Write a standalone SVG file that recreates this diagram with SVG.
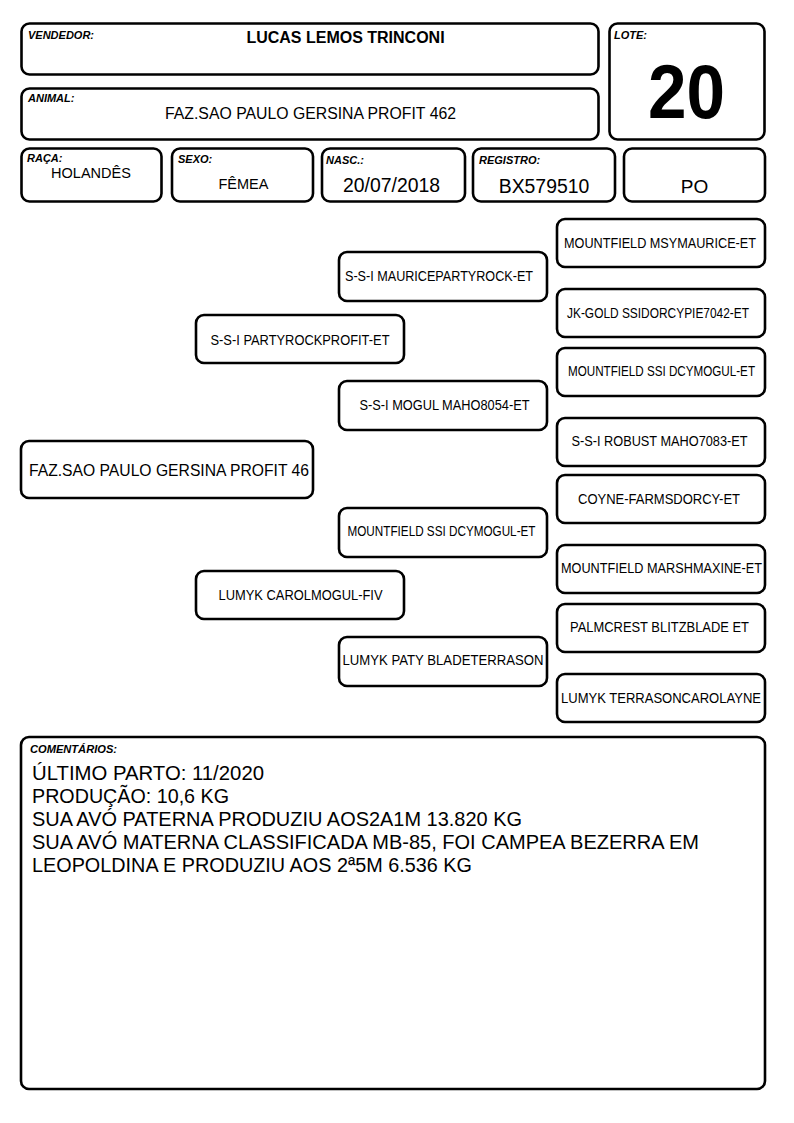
<svg xmlns="http://www.w3.org/2000/svg" width="794" height="1123" viewBox="0 0 794 1123">
<style>
.b{fill:#fff;stroke:#000;stroke-width:2.6}
text{font-family:"Liberation Sans",Arial,sans-serif;fill:#000}
.lbl{font-size:11px;font-weight:bold;font-style:italic}
.v{text-anchor:middle}
.p{font-size:14px;text-anchor:middle}
.c{font-size:20px}
</style>
<rect width="794" height="1123" fill="#fff"/>
<g id="vendedor"><rect class="b" x="21.5" y="23.5" width="577" height="51" rx="8"/><text class="lbl" x="28" y="39">VENDEDOR:</text><text class="v" x="345.5" y="43" font-size="16" font-weight="bold">LUCAS LEMOS TRINCONI</text></g>
<g id="animal"><rect class="b" x="21.5" y="88.5" width="577" height="51" rx="8"/><text class="lbl" x="28" y="102">ANIMAL:</text><text class="v" x="310.5" y="119" font-size="16" textLength="291" lengthAdjust="spacingAndGlyphs">FAZ.SAO PAULO GERSINA PROFIT 462</text></g>
<g id="lote"><rect class="b" x="609.5" y="23.5" width="155" height="116" rx="8"/><text class="lbl" x="614" y="39">LOTE:</text><text class="v" x="686.5" y="118" font-size="76" font-weight="bold" textLength="77" lengthAdjust="spacingAndGlyphs">20</text></g>
<g id="raca"><rect class="b" x="21.5" y="148.5" width="140" height="53" rx="8"/><text class="lbl" x="27" y="162">RAÇA:</text><text class="v" x="91" y="178" font-size="14.5">HOLANDÊS</text></g>
<g id="sexo"><rect class="b" x="172" y="148.5" width="141" height="53" rx="8"/><text class="lbl" x="178" y="163">SEXO:</text><text class="v" x="243.5" y="189" font-size="14.5">FÊMEA</text></g>
<g id="nasc"><rect class="b" x="322" y="148.5" width="143" height="53" rx="8"/><text class="lbl" x="326" y="164">NASC.:</text><text class="v" x="391.5" y="192" font-size="19.4">20/07/2018</text></g>
<g id="registro"><rect class="b" x="473" y="148.5" width="142" height="53" rx="8"/><text class="lbl" x="479" y="164">REGISTRO:</text><text class="v" x="544" y="192.5" font-size="19.4">BX579510</text></g>
<g id="po"><rect class="b" x="624" y="148.5" width="141" height="53" rx="8"/><text class="v" x="694.5" y="192.5" font-size="19">PO</text></g>
<g id="connectors"/>
<g id="ped-animal"><rect class="b" x="21" y="441" width="292" height="57" rx="8"/><text x="29" y="476" font-size="16.5" textLength="280" lengthAdjust="spacingAndGlyphs">FAZ.SAO PAULO GERSINA PROFIT 46</text></g>
<g id="sire"><rect class="b" x="196" y="315" width="208" height="48" rx="8"/><text class="p" x="300" y="345" textLength="179" lengthAdjust="spacingAndGlyphs">S-S-I PARTYROCKPROFIT-ET</text></g>
<g id="dam"><rect class="b" x="196" y="571" width="208" height="48" rx="8"/><text class="p" x="300.5" y="600" textLength="164" lengthAdjust="spacingAndGlyphs">LUMYK CAROLMOGUL-FIV</text></g>
<g id="ss"><rect class="b" x="339" y="252" width="208" height="49" rx="8"/><text class="p" x="439" y="281" textLength="188" lengthAdjust="spacingAndGlyphs">S-S-I MAURICEPARTYROCK-ET</text></g>
<g id="sd"><rect class="b" x="339" y="381" width="208" height="49" rx="8"/><text class="p" x="444.5" y="410" textLength="170" lengthAdjust="spacingAndGlyphs">S-S-I MOGUL MAHO8054-ET</text></g>
<g id="ds"><rect class="b" x="339" y="508" width="208" height="49" rx="8"/><text class="p" x="441.5" y="536" font-size="13" textLength="188" lengthAdjust="spacingAndGlyphs">MOUNTFIELD SSI DCYMOGUL-ET</text></g>
<g id="dd"><rect class="b" x="339" y="637" width="208" height="49" rx="8"/><text class="p" x="443" y="665" textLength="201" lengthAdjust="spacingAndGlyphs">LUMYK PATY BLADETERRASON</text></g>
<g id="sss"><rect class="b" x="557" y="219" width="208" height="48" rx="8"/><text class="p" x="660" y="247.5" textLength="192" lengthAdjust="spacingAndGlyphs">MOUNTFIELD MSYMAURICE-ET</text></g>
<g id="ssd"><rect class="b" x="557" y="289" width="208" height="48" rx="8"/><text class="p" x="658" y="317.5" textLength="182" lengthAdjust="spacingAndGlyphs">JK-GOLD SSIDORCYPIE7042-ET</text></g>
<g id="sds"><rect class="b" x="557" y="348" width="208" height="48" rx="8"/><text class="p" x="661.5" y="375.5" font-size="13" textLength="187" lengthAdjust="spacingAndGlyphs">MOUNTFIELD SSI DCYMOGUL-ET</text></g>
<g id="sdd"><rect class="b" x="557" y="418" width="208" height="48" rx="8"/><text class="p" x="659.5" y="445.5" textLength="176" lengthAdjust="spacingAndGlyphs">S-S-I ROBUST MAHO7083-ET</text></g>
<g id="dss"><rect class="b" x="557" y="475" width="208" height="48" rx="8"/><text class="p" x="659" y="504" textLength="162" lengthAdjust="spacingAndGlyphs">COYNE-FARMSDORCY-ET</text></g>
<g id="dsd"><rect class="b" x="557" y="545" width="208" height="48" rx="8"/><text class="p" x="661.5" y="573" textLength="201" lengthAdjust="spacingAndGlyphs">MOUNTFIELD MARSHMAXINE-ET</text></g>
<g id="dds"><rect class="b" x="557" y="604" width="208" height="48" rx="8"/><text class="p" x="659.5" y="632" textLength="179" lengthAdjust="spacingAndGlyphs">PALMCREST BLITZBLADE ET</text></g>
<g id="ddd"><rect class="b" x="557" y="674" width="208" height="48" rx="8"/><text class="p" x="661" y="703" textLength="200" lengthAdjust="spacingAndGlyphs">LUMYK TERRASONCAROLAYNE</text></g>
<g id="comentarios"><rect class="b" x="21" y="737" width="744" height="352" rx="8"/><text class="lbl" x="30" y="752.5" font-size="10.5" textLength="87" lengthAdjust="spacingAndGlyphs">COMENTÁRIOS:</text>
<text class="c" x="32" y="780" textLength="232" lengthAdjust="spacingAndGlyphs">ÚLTIMO PARTO: 11/2020</text>
<text class="c" x="32" y="803" textLength="197" lengthAdjust="spacingAndGlyphs">PRODUÇÃO: 10,6 KG</text>
<text class="c" x="32" y="826" textLength="490" lengthAdjust="spacingAndGlyphs">SUA AVÓ PATERNA PRODUZIU AOS2A1M 13.820 KG</text>
<text class="c" x="32" y="849" textLength="667" lengthAdjust="spacingAndGlyphs">SUA AVÓ MATERNA CLASSIFICADA MB-85, FOI CAMPEA BEZERRA EM</text>
<text class="c" x="32" y="872" textLength="440" lengthAdjust="spacingAndGlyphs">LEOPOLDINA E PRODUZIU AOS 2ª5M 6.536 KG</text></g>
</svg>
